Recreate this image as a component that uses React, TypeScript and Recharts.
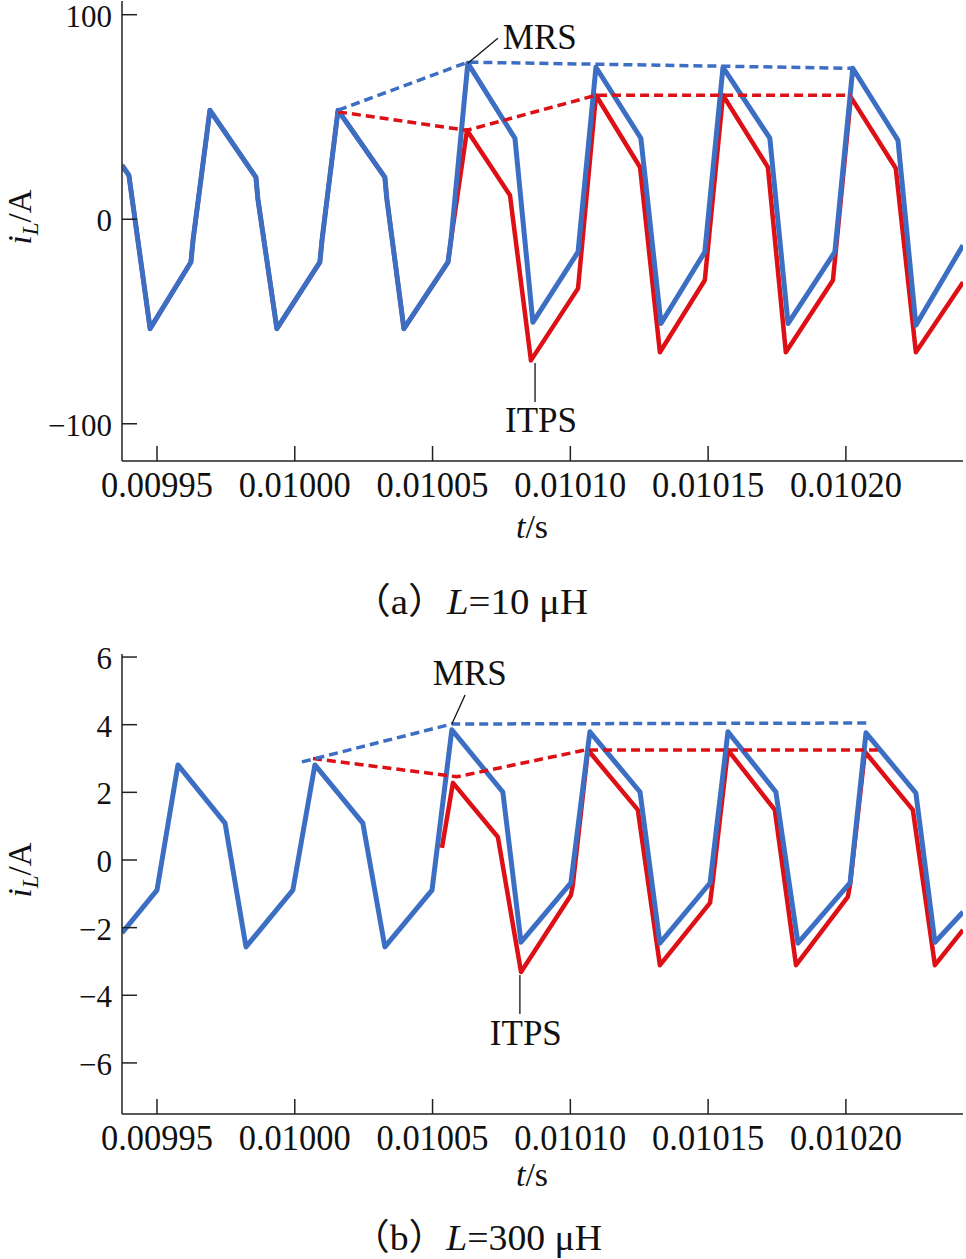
import { Line, LineChart, ReferenceDot, ReferenceLine, XAxis, YAxis } from "recharts";

const SERIF = "'Liberation Serif', 'Noto Sans CJK SC', serif";
const BLUE = "#3c6fc3";
const RED = "#dd1016";
const AXIS = "#222222";

const T_DOMAIN: [number, number] = [0.0099373, 0.0102425];
const T_TICKS = [0.00995, 0.01, 0.01005, 0.0101, 0.01015, 0.0102];
const T_TICK_LABELS = ["0.00995", "0.01000", "0.01005", "0.01010", "0.01015", "0.01020"];

// (a) L = 10 uH
const A_TICKS = [-100, 0, 100];
const tA_mrs = [
  0.0099373, 0.0099398, 0.0099475, 0.0099623, 0.0099631, 0.0099692, 0.0099859, 0.0099866,
  0.0099935, 0.0100091, 0.0100099, 0.0100157, 0.0100327, 0.0100334, 0.0100396, 0.0100556,
  0.0100567, 0.0100628, 0.0100799, 0.0100864, 0.0101028, 0.0101093, 0.0101256, 0.0101329,
  0.0101488, 0.0101554, 0.0101724, 0.010179, 0.010196, 0.0102025, 0.0102189, 0.0102254, 0.0102425,
];
const iA_mrs = [
  26.4, 21.5, -53.5, -21, -10, 53.3, 20.5, 10, -53.5, -21, -10, 53.3, 20.5, 10, -53.5, -21, -10,
  76.3, 39.6, -50.4, -16, 74.3, 39.6, -51, -16, 74.3, 39.6, -51, -16, 73.8, 38.6, -51.8, -12.7,
];
const tA_itps = [
  ...tA_mrs.slice(0, 17),
  0.0100581, 0.0100625, 0.0100781, 0.0100857, 0.0101028, 0.0101093, 0.0101253, 0.0101325,
  0.0101488, 0.0101554, 0.0101717, 0.0101782, 0.0101953, 0.0102018, 0.0102181, 0.0102254, 0.0102425,
];
const iA_itps = [
  ...iA_mrs.slice(0, 17),
  3, 43.5, 11.7, -69, -33.8, 60.6, 25.4, -65, -29.8, 60.6, 25.4, -65, -29.8, 59.7, 24.9, -65, -30.8,
];
const tA_mrsEnv = [0.0100157, 0.0100628, 0.0102025];
const iA_mrsEnv = [53.3, 76.8, 73.8];
const tA_itpsEnv = [0.0100157, 0.0100625, 0.0101093, 0.0102018];
const iA_itpsEnv = [52.5, 43.5, 60.6, 60.6];

// (b) L = 300 uH
const B_TICKS = [-6, -4, -2, 0, 2, 4, 6];
const tB_mrs = [
  0.0099373, 0.00995, 0.0099576, 0.0099747, 0.0099823, 0.0099993, 0.0100073, 0.0100247,
  0.0100327, 0.0100498, 0.010057, 0.0100755, 0.0100821, 0.0101002, 0.0101071, 0.0101253,
  0.0101325, 0.0101507, 0.0101572, 0.0101746, 0.0101826, 0.0102015, 0.0102073, 0.0102254,
  0.0102323, 0.0102425,
];
const iB_mrs = [
  -2.16, -0.89, 2.81, 1.09, -2.57, -0.89, 2.81, 1.09, -2.57, -0.89, 3.85, 2.01, -2.43, -0.68,
  3.79, 2.01, -2.46, -0.68, 3.79, 2.01, -2.46, -0.68, 3.76, 1.98, -2.43, -1.54,
];
const tB_itps = [
  0.0100534, 0.0100574, 0.0100737, 0.0100821, 0.0101002, 0.0101009, 0.0101064, 0.0101245,
  0.0101325, 0.0101507, 0.0101514, 0.0101572, 0.0101742, 0.0101819, 0.0102007, 0.0102015,
  0.0102069, 0.0102243, 0.0102323, 0.0102425,
];
const iB_itps = [
  0.36, 2.28, 0.68, -3.31, -1.04, -0.74, 3.25, 1.48, -3.11, -1.27, -0.83, 3.25, 1.48, -3.11,
  -1.09, -0.74, 3.2, 1.48, -3.11, -2.07,
];
const tB_mrsEnv = [0.0100026, 0.010057, 0.0102087];
const iB_mrsEnv = [2.9, 4.02, 4.05];
const tB_itpsEnv = [0.0100066, 0.0100589, 0.0101053, 0.0102116];
const iB_itpsEnv = [3.0, 2.46, 3.25, 3.25];

const zip = (t: number[], i: number[]) => t.map((v, k) => ({ t: v, i: i[k] }));

function XTick(props: any) {
  const { x, y, index } = props;
  return (
    <g>
      <line x1={x} x2={x} y1={y} y2={y - 15} stroke={AXIS} strokeWidth={1.5} />
      <text
        x={x}
        y={y + 36}
        textAnchor="middle"
        fontFamily={SERIF}
        fontSize={36}
        textLength={112}
        lengthAdjust="spacingAndGlyphs"
        fill="#111"
      >
        {T_TICK_LABELS[index]}
      </text>
    </g>
  );
}

function YTick(props: any) {
  const { x, y, payload } = props;
  const v = payload.value as number;
  return (
    <g>
      <line x1={x} x2={x + 15} y1={y} y2={y} stroke={AXIS} strokeWidth={1.5} />
      <text x={x - 10} y={y + 12} textAnchor="end" fontFamily={SERIF} fontSize={31} fill="#111">
        {v < 0 ? `\u2212${-v}` : `${v}`}
      </text>
    </g>
  );
}

type Panel = {
  top: number;
  height: number;
  marginTop: number;
  axisHeight: number;
  domain: [number, number];
  ticks: number[];
  mrs: { t: number; i: number }[];
  itps: { t: number; i: number }[];
  mrsEnv: { t: number; i: number }[];
  itpsEnv: { t: number; i: number }[];
  tsBase: number;
  capBase: number;
  caption: string;
  capLen: number;
  mrsLead: [number, number, number, number];
  mrsText: [number, number];
  itpsLead: [number, number, number, number];
  itpsText: [number, number];
};

function WaveChart({ p }: { p: Panel }) {
  const annText = (text: string) => (lp: any) =>
    (
      <text x={lp.viewBox.x} y={lp.viewBox.y} fontFamily={SERIF} fontSize={35} fill="#111">
        {text}
      </text>
    );
  return (
    <div style={{ position: "absolute", left: 0, top: p.top }}>
      <LineChart
        width={966}
        height={p.height}
        margin={{ top: p.marginTop, right: 3, bottom: 0, left: 0 }}
      >
        <XAxis
          dataKey="t"
          type="number"
          domain={T_DOMAIN}
          allowDataOverflow
          ticks={T_TICKS}
          interval={0}
          height={p.axisHeight}
          tickSize={0}
          tickMargin={0}
          tickLine={false}
          tick={<XTick />}
          axisLine={{ stroke: AXIS, strokeWidth: 1.5 }}
          label={{
            content: (lp: any) => {
              const vb = lp.viewBox;
              return (
                <g fontFamily={SERIF} fill="#111">
                  <text x={532} y={vb.y + p.tsBase} textAnchor="middle" fontSize={34}>
                    <tspan fontStyle="italic">t</tspan>/s
                  </text>
                  <text
                    x={352}
                    y={vb.y + p.capBase}
                    fontSize={36}
                    textLength={p.capLen}
                    lengthAdjust="spacingAndGlyphs"
                  >
                    {p.caption.split("|").map((s, k) => (
                      <tspan key={k} fontStyle={k === 1 ? "italic" : "normal"}>
                        {s}
                      </tspan>
                    ))}
                  </text>
                </g>
              );
            },
          }}
        />
        <XAxis
          xAxisId="top"
          orientation="top"
          type="number"
          domain={T_DOMAIN}
          allowDataOverflow
          height={0}
          tick={false}
          tickLine={false}
          axisLine={{ stroke: AXIS, strokeWidth: 1.5 }}
        />
        <YAxis
          type="number"
          domain={p.domain}
          allowDataOverflow
          ticks={p.ticks}
          interval={0}
          width={122}
          tickSize={0}
          tickMargin={0}
          tickLine={false}
          tick={<YTick />}
          axisLine={{ stroke: AXIS, strokeWidth: 1.5 }}
          label={{
            content: (lp: any) => {
              const vb = lp.viewBox;
              const cy = vb.y + vb.height / 2 - 14;
              const cx = 31;
              return (
                <text
                  x={cx}
                  y={cy}
                  transform={`rotate(-90, ${cx}, ${cy})`}
                  textAnchor="middle"
                  fontFamily={SERIF}
                  fontSize={33}
                  fill="#111"
                >
                  <tspan fontStyle="italic">i</tspan>
                  <tspan fontStyle="italic" fontSize={23} dy={7}>
                    L
                  </tspan>
                  <tspan dy={-7}>/A</tspan>
                </text>
              );
            },
          }}
        />
        <YAxis
          yAxisId="right"
          orientation="right"
          type="number"
          domain={p.domain}
          allowDataOverflow
          width={0}
          tick={false}
          tickLine={false}
          axisLine={{ stroke: AXIS, strokeWidth: 1.5 }}
        />
        <Line
          data={p.itps}
          dataKey="i"
          type="linear"
          stroke={RED}
          strokeWidth={4.5}
          strokeLinejoin="round"
          dot={false}
          activeDot={false}
          isAnimationActive={false}
        />
        <Line
          data={p.mrs}
          dataKey="i"
          type="linear"
          stroke={BLUE}
          strokeWidth={5}
          strokeLinejoin="round"
          dot={false}
          activeDot={false}
          isAnimationActive={false}
        />
        <Line
          data={p.itpsEnv}
          dataKey="i"
          type="linear"
          stroke={RED}
          strokeWidth={3.5}
          strokeDasharray="9 5"
          dot={false}
          activeDot={false}
          isAnimationActive={false}
        />
        <Line
          data={p.mrsEnv}
          dataKey="i"
          type="linear"
          stroke={BLUE}
          strokeWidth={3.5}
          strokeDasharray="9 5"
          dot={false}
          activeDot={false}
          isAnimationActive={false}
        />
        <ReferenceLine
          segment={[
            { x: p.mrsLead[0], y: p.mrsLead[1] },
            { x: p.mrsLead[2], y: p.mrsLead[3] },
          ]}
          stroke="#111"
          strokeWidth={1.3}
        />
        <ReferenceLine
          segment={[
            { x: p.itpsLead[0], y: p.itpsLead[1] },
            { x: p.itpsLead[2], y: p.itpsLead[3] },
          ]}
          stroke="#111"
          strokeWidth={1.3}
        />
        <ReferenceDot
          x={p.mrsText[0]}
          y={p.mrsText[1]}
          r={0}
          fill="none"
          stroke="none"
          ifOverflow="visible"
          label={{ content: annText("MRS") }}
        />
        <ReferenceDot
          x={p.itpsText[0]}
          y={p.itpsText[1]}
          r={0}
          fill="none"
          stroke="none"
          ifOverflow="visible"
          label={{ content: annText("ITPS") }}
        />
      </LineChart>
    </div>
  );
}

const PANEL_A: Panel = {
  top: 0,
  height: 640,
  marginTop: 1,
  axisHeight: 179,
  domain: [-118.2, 106.7],
  ticks: A_TICKS,
  mrs: zip(tA_mrs, iA_mrs),
  itps: zip(tA_itps, iA_itps),
  mrsEnv: zip(tA_mrsEnv, iA_mrsEnv),
  itpsEnv: zip(tA_itpsEnv, iA_itpsEnv),
  tsBase: 77,
  capBase: 153,
  caption: "\uff08a\uff09|L|=10 \u03bcH",
  capLen: 236,
  mrsLead: [0.0100628, 76.3, 0.0100737, 88.5],
  mrsText: [0.0100755, 83.3],
  itpsLead: [0.0100872, -70.3, 0.0100872, -89.3],
  itpsText: [0.0100763, -104],
};

const PANEL_B: Panel = {
  top: 620,
  height: 639,
  marginTop: 34,
  axisHeight: 145,
  domain: [-7.51, 6.09],
  ticks: B_TICKS,
  mrs: zip(tB_mrs, iB_mrs),
  itps: zip(tB_itps, iB_itps),
  mrsEnv: zip(tB_mrsEnv, iB_mrsEnv),
  itpsEnv: zip(tB_itpsEnv, iB_itpsEnv),
  tsBase: 72,
  capBase: 136,
  caption: "\uff08b\uff09|L|=300 \u03bcH",
  capLen: 250,
  mrsLead: [0.010057, 4.02, 0.0100618, 4.88],
  mrsText: [0.0100501, 5.18],
  itpsLead: [0.0100817, -3.4, 0.0100817, -4.55],
  itpsText: [0.0100708, -5.47],
};

export default function App() {
  return (
    <div
      style={{
        position: "absolute",
        left: 0,
        top: 0,
        width: 966,
        height: 1259,
        background: "#fff",
        overflow: "hidden",
      }}
    >
      <WaveChart p={PANEL_A} />
      <WaveChart p={PANEL_B} />
    </div>
  );
}
